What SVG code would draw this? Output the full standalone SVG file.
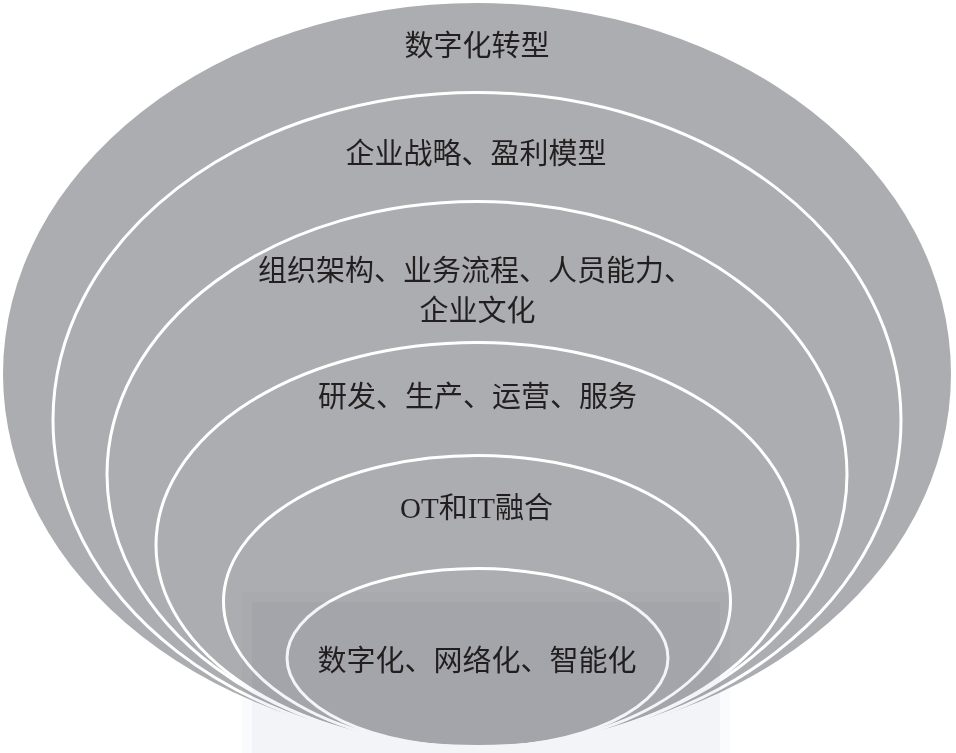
<svg xmlns="http://www.w3.org/2000/svg" width="956" height="753" viewBox="0 0 956 753">
<style>
.lbl{font-family:'Liberation Serif','Noto Sans CJK SC',serif;font-size:29px;fill:#231f20;text-anchor:middle}
.ring{fill:none;stroke:#ffffff;stroke-width:3}
</style>
<rect width="956" height="753" fill="#ffffff"/>
<g id="layer1">
<ellipse cx="477" cy="374" rx="474" ry="371" fill="#acadb0"/>
<text class="lbl" x="477" y="56">数字化转型</text>
</g>
<g id="layer2">
<ellipse class="ring" cx="477" cy="420" rx="424" ry="327.5"/>
<text class="lbl" x="476" y="164">企业战略、盈利模型</text>
</g>
<g id="layer3">
<ellipse class="ring" cx="477" cy="474.5" rx="370" ry="273"/>
<text class="lbl" style="text-anchor:start" x="258" y="281">组织架构、业务流程、人员能力、</text>
<text class="lbl" x="477.5" y="321">企业文化</text>
</g>
<g id="layer4">
<ellipse class="ring" cx="477" cy="545" rx="321" ry="202.5"/>
<text class="lbl" x="477.5" y="407">研发、生产、运营、服务</text>
</g>
<g id="layer5">
<ellipse class="ring" cx="477" cy="601.5" rx="253.5" ry="146"/>
<text class="lbl" x="476.5" y="518">OT和IT融合</text>
</g>
<g id="layer6">
<ellipse class="ring" cx="477.5" cy="658" rx="190.5" ry="89.5"/>
<text class="lbl" x="477" y="671">数字化、网络化、智能化</text>
</g>
<g id="watermark" style="mix-blend-mode:multiply">
<rect x="242" y="592" width="488" height="161" fill="#fafbfc"/>
<rect x="252" y="602" width="468" height="151" fill="#f2f4f8"/>
</g>
</svg>
